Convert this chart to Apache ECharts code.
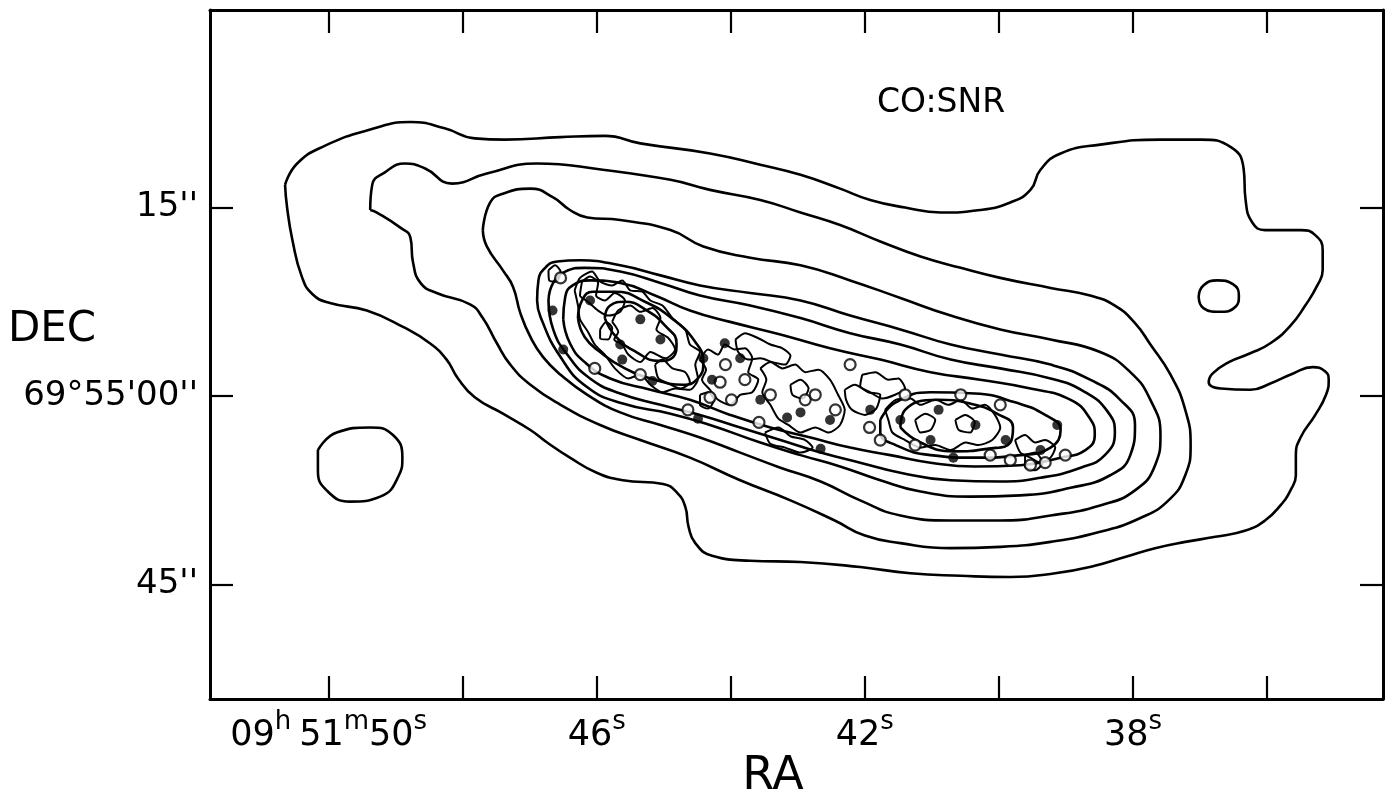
<!DOCTYPE html>
<html>
<head>
<meta charset="utf-8">
<script src="https://cdn.jsdelivr.net/npm/echarts@6/dist/echarts.min.js"></script>
<style>
  html, body { margin: 0; padding: 0; background: #fff; }
  #chart { width: 1394px; height: 803px; }
</style>
</head>
<body>
<div id="chart"></div>
<script>
// Coordinates: RA in seconds of time after 09h51m, Dec in arcsec offset from +69°55'00".

// Axis ticks and labels
const raTicks = [50, 48, 46, 44, 42, 40, 38, 36];
const raLabels = [50, 46, 42, 38];
const decTicks = [15, 0, -15];
const decLabels = ["15''", "69°55'00''", "45''"];

// CO integrated-intensity contours, lowest level first
const coL1 = [[50.65,16.8],[50.47,18.5],[50.06,19.9],[49.38,21.2],[48.78,21.8],[48.27,21.3],[47.82,20.5],[47.37,20.4],[46.54,20.6],[45.88,20.7],[45.35,20.1],[44.31,19.3],[43.56,18.4],[42.96,17.6],[42.37,16.5],[41.92,15.6],[41.40,15.0],[40.87,14.6],[40.28,14.8],[39.83,15.4],[39.53,16.4],[39.38,18.0],[39.08,19.3],[38.49,20.0],[37.59,20.4],[36.99,20.4],[36.54,19.8],[36.35,18.1],[36.32,15.6],[36.22,13.8],[36.03,13.2],[35.50,13.2],[35.28,12.8],[35.17,11.6],[35.17,10.0],[35.25,8.8],[35.43,7.2],[35.65,5.6],[35.95,4.2],[36.25,3.4],[36.57,2.7],[36.81,1.8],[36.87,1.1],[36.69,0.6],[36.25,0.5],[35.95,1.0],[35.61,1.8],[35.32,2.3],[35.14,2.0],[35.08,1.3],[35.12,0.1],[35.28,-1.5],[35.50,-3.3],[35.57,-4.7],[35.57,-6.3],[35.65,-7.5],[35.80,-8.7],[36.03,-9.9],[36.32,-10.7],[36.77,-11.2],[37.22,-11.6],[37.67,-12.1],[38.12,-12.8],[38.57,-13.5],[39.16,-14.1],[39.83,-14.4],[40.57,-14.3],[41.32,-14.1],[42.07,-13.6],[42.96,-13.2],[43.71,-13.1],[44.28,-12.7],[44.53,-11.7],[44.63,-10.4],[44.68,-8.8],[44.80,-7.7],[45.01,-7.0],[45.61,-6.7],[46.00,-6.1],[46.40,-4.9],[46.74,-3.7],[46.99,-2.7],[47.40,-1.4],[47.82,-0.1],[48.07,1.4],[48.24,2.9],[48.49,4.2],[48.89,5.5],[49.43,6.8],[49.98,7.4],[50.24,8.1],[50.40,9.5],[50.54,12.4],[50.62,15.0]];
const coL1West = [[50.16,-4.3],[49.88,-2.9],[49.38,-2.5],[49.04,-3.1],[48.90,-4.9],[48.96,-6.4],[49.23,-8.0],[49.68,-8.4],[50.03,-7.5],[50.16,-5.9]];
const coL2 = [[49.38,14.8],[49.35,16.8],[49.16,17.8],[48.86,18.5],[48.56,18.1],[48.16,16.9],[47.64,17.7],[46.89,18.5],[45.91,18.0],[44.90,17.2],[44.31,16.4],[43.56,15.6],[42.96,14.6],[42.37,13.6],[41.77,12.3],[41.17,11.1],[40.57,10.2],[39.98,9.4],[39.23,8.6],[38.64,8.0],[38.27,7.2],[37.97,5.8],[37.74,4.1],[37.44,1.7],[37.22,-1.1],[37.14,-3.9],[37.22,-6.3],[37.47,-8.3],[37.89,-9.7],[38.49,-10.8],[39.23,-11.6],[39.98,-12.0],[40.72,-12.1],[41.47,-11.7],[42.00,-11.1],[42.45,-9.9],[43.11,-8.3],[43.86,-6.7],[44.61,-4.9],[45.35,-3.5],[45.95,-2.3],[46.54,-0.7],[46.99,0.9],[47.29,2.5],[47.49,4.2],[47.70,6.2],[47.89,7.3],[48.39,8.2],[48.63,9.0],[48.74,10.6],[48.78,12.6],[48.93,13.4],[49.28,14.6]];
const coL2East = [[37.02,7.9],[36.95,8.8],[36.74,9.2],[36.51,8.9],[36.42,8.0],[36.47,7.1],[36.72,6.7],[36.95,7.0]];
const coL3 = [[47.70,13.2],[47.59,15.4],[47.40,16.1],[46.99,16.5],[46.65,15.8],[46.40,14.8],[46.14,14.2],[45.65,14.0],[44.90,13.2],[44.41,11.9],[43.71,11.0],[42.96,10.4],[42.22,9.2],[41.47,7.8],[40.72,6.4],[39.98,5.3],[39.23,4.5],[38.49,3.5],[38.04,1.9],[37.74,-0.3],[37.59,-3.1],[37.67,-5.5],[37.97,-7.5],[38.49,-8.7],[39.23,-9.5],[39.98,-9.9],[40.72,-9.9],[41.47,-9.5],[42.07,-8.3],[42.66,-6.8],[43.26,-5.7],[43.86,-4.5],[44.46,-3.3],[45.05,-2.3],[45.65,-1.3],[46.14,0.1],[46.54,1.7],[46.80,3.1],[46.99,4.7],[47.14,6.6],[47.25,8.7],[47.40,10.0],[47.64,11.9]];
const coL4 = [[46.89,7.6],[46.87,9.2],[46.77,10.2],[46.59,10.7],[46.25,10.8],[45.65,10.4],[45.05,9.6],[44.46,8.8],[43.71,8.2],[42.96,7.6],[42.22,6.4],[41.47,5.3],[40.72,4.1],[39.98,3.3],[39.23,2.5],[38.64,1.3],[38.19,-0.3],[37.97,-2.3],[38.04,-4.7],[38.34,-6.3],[38.93,-7.3],[39.68,-7.9],[40.43,-8.0],[41.17,-7.6],[41.77,-6.7],[42.37,-5.6],[42.96,-4.7],[43.56,-3.7],[44.31,-2.3],[44.90,-1.4],[45.61,-0.6],[46.14,0.7],[46.54,3.1],[46.84,6.3]];
const coL5 = [[46.72,7.6],[46.65,9.0],[46.47,9.9],[46.18,10.2],[45.65,9.9],[45.05,9.0],[44.46,8.0],[43.71,7.2],[42.96,6.2],[42.22,5.0],[41.47,4.1],[40.72,2.9],[39.98,2.2],[39.23,1.4],[38.71,0.3],[38.37,-1.3],[38.27,-2.9],[38.42,-4.7],[38.78,-5.7],[39.38,-6.5],[39.98,-6.8],[40.72,-6.7],[41.47,-6.1],[42.07,-5.3],[42.66,-4.5],[43.26,-3.5],[43.86,-2.5],[44.46,-1.5],[45.05,-0.7],[45.65,0.2],[46.10,1.4],[46.44,3.3],[46.65,5.3]];
const coL6 = [[46.50,6.1],[46.47,7.9],[46.36,8.8],[46.10,9.2],[45.65,9.0],[45.13,8.0],[44.61,6.8],[44.01,5.9],[43.26,4.9],[42.52,3.8],[41.77,2.9],[41.02,1.9],[40.28,1.3],[39.53,0.6],[38.93,-0.3],[38.64,-1.8],[38.57,-3.1],[38.71,-4.3],[39.08,-4.9],[39.68,-5.5],[40.36,-5.6],[41.02,-5.3],[41.62,-4.7],[42.22,-4.1],[42.81,-3.3],[43.41,-2.5],[44.01,-1.5],[44.61,-0.3],[45.20,0.5],[45.80,1.4],[46.18,2.7],[46.40,4.2]];
const coL7NE = [[46.28,6.2],[46.22,7.6],[46.06,8.3],[45.73,8.3],[45.28,7.5],[44.86,6.1],[44.53,4.3],[44.41,2.7],[44.49,1.4],[44.72,0.9],[45.13,1.3],[45.58,2.2],[45.95,3.5],[46.18,4.7]];
const coL8NE = [[45.88,6.2],[45.80,7.2],[45.58,7.5],[45.25,6.8],[44.98,5.6],[44.81,4.2],[44.86,3.1],[45.08,2.8],[45.41,3.5],[45.71,4.7]];
const coL7SW = [[41.77,-1.9],[41.54,-0.5],[41.02,0.3],[40.36,0.2],[39.76,-0.5],[39.31,-1.5],[39.08,-2.7],[39.23,-4.1],[39.68,-4.7],[40.36,-4.9],[41.02,-4.7],[41.54,-3.9],[41.77,-2.9]];
const coL8SW = [[41.47,-2.5],[41.40,-1.1],[40.92,-0.3],[40.43,-0.6],[40.03,-1.4],[39.79,-2.5],[39.83,-3.7],[40.18,-4.2],[40.68,-4.4],[41.17,-3.7]];

// Radio supernova-remnant outlines
const snrNE = [[46.33,8.4],[46.25,9.4],[46.07,9.9],[45.95,9.1],[45.77,8.8],[45.62,9.2],[45.50,8.4],[45.32,8.3],[45.20,7.6],[45.02,7.2],[44.87,6.2],[44.68,5.3],[44.61,4.1],[44.46,3.5],[44.53,2.5],[44.49,1.4],[44.61,0.5],[44.83,0.6],[45.02,0.3],[45.20,0.9],[45.35,1.7],[45.53,1.4],[45.73,2.2],[45.88,3.3],[46.03,4.1],[46.13,5.1],[46.25,6.1],[46.28,7.2]];
const snrA = [[46.22,9.1],[46.10,9.5],[45.98,9.0],[46.01,8.0],[45.88,7.6],[45.73,8.2],[45.58,7.6],[45.65,6.7],[45.83,6.4],[45.98,6.8],[46.13,7.5],[46.25,8.0]];
const snrB = [[45.77,5.9],[45.68,6.8],[45.50,7.2],[45.35,6.7],[45.17,7.0],[45.05,6.2],[45.11,5.3],[44.93,4.6],[44.83,3.7],[44.98,3.0],[45.20,3.5],[45.35,2.7],[45.53,3.3],[45.62,4.1],[45.74,4.5],[45.68,5.1]];
const snrC = [[45.95,5.3],[45.86,5.9],[45.77,5.4],[45.83,4.5],[45.95,4.6]];
const snrD = [[45.13,2.5],[45.02,2.9],[44.87,2.2],[44.68,1.9],[44.61,1.1],[44.75,0.6],[44.93,1.0],[45.08,1.4]];
const snrE = [[44.46,2.9],[44.34,3.7],[44.19,3.3],[44.09,4.1],[43.94,3.7],[43.79,3.8],[43.68,3.0],[43.74,1.9],[43.59,1.3],[43.68,0.3],[43.86,0.1],[44.01,-0.7],[44.19,-0.3],[44.31,0.5],[44.43,1.3],[44.37,2.1]];
const snrF = [[43.56,2.2],[43.41,2.7],[43.23,2.2],[43.04,2.5],[42.89,1.9],[42.69,2.1],[42.52,1.3],[42.40,0.1],[42.30,-1.1],[42.37,-2.3],[42.54,-2.9],[42.74,-2.5],[42.96,-2.9],[43.14,-2.3],[43.29,-1.8],[43.41,-0.7],[43.53,0.3],[43.47,1.3]];
const snrG = [[43.11,0.9],[42.96,1.3],[42.84,0.6],[42.93,-0.2],[43.08,0.1]];
const snrH = [[42.30,0.5],[42.15,0.9],[41.95,0.3],[41.77,0.1],[41.83,-1.0],[42.00,-1.5],[42.19,-1.1],[42.28,-0.3]];
const snrI = [[41.70,-1.1],[41.54,-0.3],[41.32,-0.2],[41.17,-0.7],[40.95,-0.3],[40.75,-0.7],[40.57,-0.3],[40.40,-1.0],[40.21,-0.7],[40.06,-1.5],[39.98,-2.5],[40.10,-3.5],[40.31,-3.9],[40.50,-3.7],[40.72,-4.3],[40.95,-3.9],[41.17,-4.1],[41.40,-3.5],[41.59,-2.9],[41.65,-1.9]];
const snrJ = [[41.25,-1.9],[41.10,-1.4],[40.95,-1.9],[41.02,-2.7],[41.17,-2.9]];
const snrK = [[40.65,-1.9],[40.50,-1.5],[40.36,-2.1],[40.43,-2.9],[40.60,-2.7]];
const snrL = [[39.76,-3.5],[39.61,-3.1],[39.46,-3.7],[39.31,-3.5],[39.16,-4.1],[39.23,-4.9],[39.38,-5.3],[39.53,-4.9],[39.68,-4.5]];
const snrM = [[39.61,-4.7],[39.46,-4.5],[39.35,-5.3],[39.46,-5.9],[39.61,-5.6]];
const snrN = [[44.46,0.1],[44.34,0.3],[44.25,-0.3],[44.34,-1.0],[44.46,-0.7]];
const snrO = [[46.72,10.0],[46.62,10.4],[46.54,9.9],[46.60,9.1],[46.71,9.2]];
const snrP = [[43.93,4.5],[43.79,5.0],[43.59,4.6],[43.41,4.1],[43.23,3.8],[43.11,3.2],[43.19,2.5],[43.38,2.7],[43.56,3.0],[43.74,2.9],[43.89,3.5]];
const snrQ = [[42.04,1.7],[41.84,1.9],[41.65,1.3],[41.50,1.4],[41.40,0.6],[41.55,0.1],[41.74,-0.2],[41.92,0.3],[42.07,0.8]];
const snrR = [[43.49,-2.9],[43.29,-2.5],[43.11,-3.2],[42.89,-3.5],[42.78,-4.1],[42.96,-4.5],[43.19,-4.1],[43.41,-3.8]];
const snrDots = [[46.66,6.8],[46.50,3.7],[45.62,2.9],[44.49,-1.8],[44.41,3.0],[45.17,1.2],[44.09,4.2],[43.16,-1.7],[40.90,-1.1],[39.13,-2.3],[42.66,-4.2],[40.68,-4.9],[44.28,1.3],[43.86,3.0],[43.56,-0.3],[42.96,-1.3],[42.52,-1.9],[41.92,-1.1],[41.47,-1.9],[41.02,-3.5],[40.35,-2.3],[39.90,-3.5],[39.38,-4.3],[45.05,4.5],[45.35,6.1],[45.65,4.1],[46.10,7.6]];
const snrRings = [[44.31,-0.1],[43.99,-0.3],[43.58,-2.1],[41.93,-2.5],[39.31,-5.3],[42.89,-0.3],[45.35,1.7],[41.25,-3.9],[44.08,2.5],[43.79,1.3],[43.41,0.1],[42.74,0.1],[42.44,-1.1],[41.77,-3.5],[41.40,0.1],[40.13,-4.7],[39.83,-5.1],[39.53,-5.5],[46.54,9.4],[46.03,2.2],[44.64,-1.1],[44.16,1.1],[42.22,2.5],[40.57,0.1],[39.98,-0.7],[39.01,-4.7]];

// Map extent
const RA_MIN = 34.27, RA_MAX = 51.77;
const DEC_MIN = -24.1, DEC_MAX = 30.71;

const FONT = "'DejaVu Sans', 'Liberation Sans', sans-serif";
const INK = '#000';
const closeRing = pts => pts.concat([pts[0]]);

const coContours = [coL1, coL1West, coL2, coL2East, coL3, coL4, coL5, coL6, coL7NE, coL8NE, coL7SW, coL8SW];
const snrOutlines = [snrNE, snrA, snrB, snrC, snrD, snrE, snrF, snrG, snrH, snrI, snrJ, snrK, snrL, snrM, snrN, snrO, snrP, snrQ, snrR];

function raAxis(position, showLabels) {
  return {
    type: 'value', position: position, min: RA_MIN, max: RA_MAX, inverse: true,
    axisLine: { show: true, onZero: false, lineStyle: { color: INK, width: 3 } },
    axisTick: { show: true, inside: true, length: 23, customValues: raTicks, lineStyle: { color: INK, width: 2.2 } },
    axisLabel: showLabels ? {
      show: true, customValues: raLabels, margin: 10,
      formatter: v => v === 50 ? '{n|09}{u|h}{g|}{n|51}{u|m}{n|50}{u|s}' : '{n|' + v + '}{u|s}',
      rich: {
        n: { fontFamily: FONT, fontSize: 35, lineHeight: 44, color: INK, verticalAlign: 'bottom' },
        u: { fontFamily: FONT, fontSize: 26, lineHeight: 44, color: INK, verticalAlign: 'top' },
        g: { width: 8, lineHeight: 44 }
      }
    } : { show: false },
    splitLine: { show: false }
  };
}

function decAxis(position, showLabels) {
  return {
    type: 'value', position: position, min: DEC_MIN, max: DEC_MAX,
    axisLine: { show: true, onZero: false, lineStyle: { color: INK, width: 3 } },
    axisTick: { show: true, inside: true, length: 23, customValues: decTicks, lineStyle: { color: INK, width: 2.2 } },
    axisLabel: showLabels ? {
      show: true, customValues: decTicks, margin: 12,
      fontFamily: FONT, fontSize: 34, color: INK,
      formatter: v => decLabels[decTicks.indexOf(v)]
    } : { show: false },
    splitLine: { show: false }
  };
}

const series = [];
coContours.forEach(pts => series.push({
  type: 'line', data: closeRing(pts), smooth: 0.5, symbol: 'none', silent: true,
  lineStyle: { color: INK, width: 2.6 }, z: 2
}));
snrOutlines.forEach(pts => series.push({
  type: 'line', data: closeRing(pts), smooth: 0.25, symbol: 'none', silent: true,
  lineStyle: { color: INK, width: 2 }, z: 3
}));
series.push({
  type: 'scatter', data: snrRings, symbol: 'circle', symbolSize: 11, silent: true,
  itemStyle: { color: '#fff', borderColor: INK, borderWidth: 2.2 }, z: 4
});
series.push({
  type: 'scatter', data: snrDots, symbol: 'circle', symbolSize: 10, silent: true,
  itemStyle: { color: INK }, z: 5
});

const chart = echarts.init(document.getElementById('chart'), null, { renderer: 'canvas' });
chart.setOption({
  animation: false,
  backgroundColor: '#fff',
  grid: { left: 210, right: 11, top: 10, bottom: 104, containLabel: false, outerBoundsMode: 'none' },
  xAxis: [raAxis('bottom', true), raAxis('top', false)],
  yAxis: [decAxis('left', true), decAxis('right', false)],
  series: series,
  graphic: [
    { type: 'text', x: 52, y: 330, style: { text: 'DEC', fontFamily: FONT, fontSize: 42, fill: INK, align: 'center', verticalAlign: 'middle' } },
    { type: 'text', x: 773, y: 777, style: { text: 'RA', fontFamily: FONT, fontSize: 46, fill: INK, align: 'center', verticalAlign: 'middle' } },
    { type: 'text', x: 941, y: 103, style: { text: 'CO:SNR', fontFamily: FONT, fontSize: 33, fill: INK, align: 'center', verticalAlign: 'middle' } }
  ]
});
</script>
</body>
</html>
